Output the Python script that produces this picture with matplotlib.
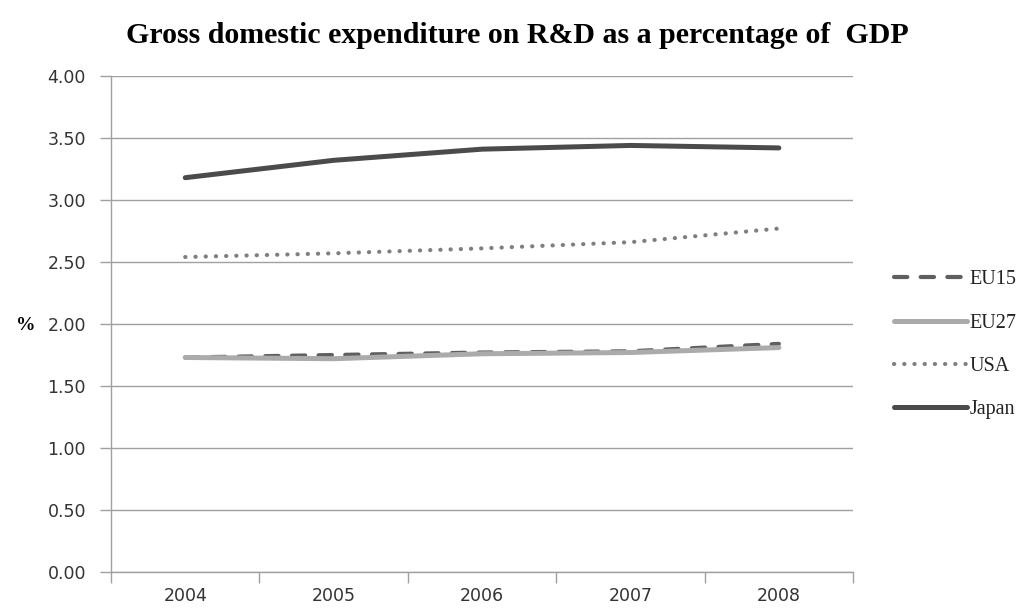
import matplotlib
matplotlib.use("Agg")
import matplotlib.pyplot as plt
import numpy as np

# R&D spending as % of GDP
years = ["2004", "2005", "2006", "2007", "2008"]
eu15 = [1.73, 1.75, 1.77, 1.78, 1.84]
eu27 = [1.73, 1.72, 1.76, 1.77, 1.81]
usa = [2.54, 2.57, 2.61, 2.66, 2.77]
japan = [3.18, 3.32, 3.41, 3.44, 3.42]

fig = plt.figure(figsize=(10.31, 6.1), dpi=100)
ax = fig.add_axes([0.1077, 0.0623, 0.7197, 0.8131])

x = np.arange(len(years)) + 0.5

ax.plot(x, eu15, color="#5f5f5f", lw=3, dashes=(3.2, 3.2), dash_capstyle="round", label="EU15")
ax.plot(x, eu27, color="#ababab", lw=3.6, solid_capstyle="round", label="EU27")
ax.plot(x, usa, color="#7f7f7f", lw=3, linestyle=(0, (0.05, 2.4)), dash_capstyle="round", label="USA")
ax.plot(x, japan, color="#4b4b4b", lw=3.6, solid_capstyle="round", label="Japan")

ax.set_xlim(0, len(years))
ax.set_ylim(0, 4)
ax.set_yticks(np.arange(0, 4.01, 0.5))
ax.set_yticklabels(["%.2f" % v for v in np.arange(0, 4.01, 0.5)], fontsize=12.5, color="#333333",
                   family="DejaVu Sans")
ax.set_xticks(np.arange(len(years) + 1))
ax.set_xticklabels([])
ax.set_xticks(x, minor=True)
ax.set_xticklabels(years, minor=True, fontsize=12.5, color="#333333", family="DejaVu Sans")
ax.tick_params(axis="x", which="minor", length=0, pad=11)
ax.tick_params(axis="x", which="major", length=8, color="#a0a0a0", width=1)
ax.tick_params(axis="y", length=8, color="#a0a0a0", width=1, pad=10)

ax.grid(axis="y", color="#a0a0a0", lw=1)
ax.set_axisbelow(True)
for side in ["top", "right"]:
    ax.spines[side].set_visible(False)
for side in ["left", "bottom"]:
    ax.spines[side].set_color("#a0a0a0")
    ax.spines[side].set_linewidth(1)

fig.text(0.016, 0.467, "%", fontsize=14, fontweight="bold", family="Liberation Serif",
         va="center", ha="left")

fig.text(0.502, 0.942, "Gross domestic expenditure on R&D as a percentage of  GDP",
         fontsize=21.5, fontweight="bold", family="Liberation Serif", ha="center", va="center")

leg = ax.legend(loc="center left", bbox_to_anchor=(1.031, 0.458), frameon=False,
                prop={"family": "Liberation Serif", "size": 14.5}, handlelength=3.6,
                handletextpad=0.15, labelspacing=1.2)
for t in leg.get_texts():
    t.set_color("#222222")

fig.savefig("out.png", dpi=100)
